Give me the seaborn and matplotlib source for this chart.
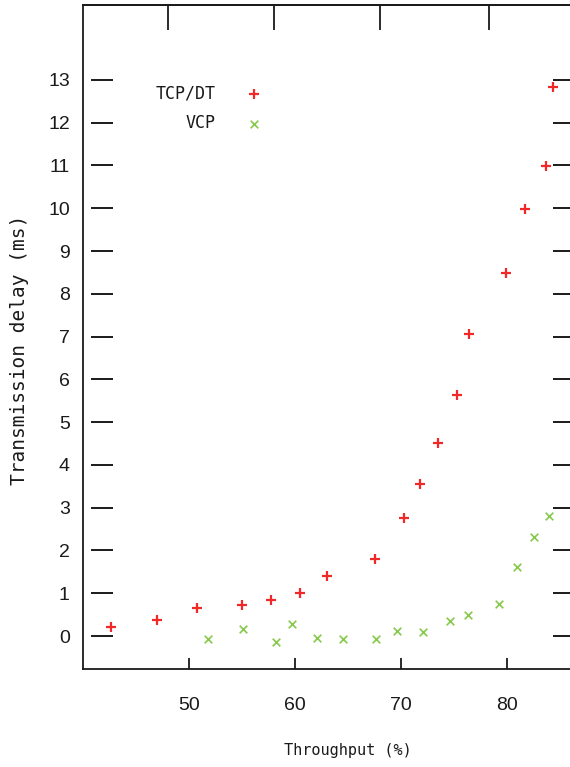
import numpy as np
import pandas as pd
import matplotlib
matplotlib.use("Agg")
import matplotlib.pyplot as plt
import seaborn as sns

# --- data --------------------------------------------------------------
tcp_x = [42.6, 47.0, 50.8, 55.0, 57.7, 60.5, 63.0, 67.5, 70.3, 71.8,
         73.5, 75.3, 76.4, 79.9, 81.7, 83.7, 84.3]
tcp_y = [0.21, 0.37, 0.65, 0.72, 0.84, 1.00, 1.40, 1.80, 2.76, 3.55,
         4.51, 5.63, 7.06, 8.48, 9.98, 10.98, 12.83]

vcp_x = [51.8, 55.1, 58.2, 59.7, 62.1, 64.5, 67.6, 69.6, 72.1, 74.6,
         76.3, 79.2, 80.9, 82.5, 84.0]
vcp_y = [-0.07, 0.16, -0.14, 0.28, -0.05, -0.07, -0.07, 0.12, 0.09, 0.35,
         0.49, 0.75, 1.61, 2.31, 2.80]

x_ticks = [50, 60, 70, 80]
top_ticks = [48, 58, 68, 78.3]
y_ticks = list(range(0, 14))

tcp = pd.DataFrame({"x": tcp_x, "y": tcp_y})
vcp = pd.DataFrame({"x": vcp_x, "y": vcp_y})

RED = "#f02828"
GREEN = "#86c94a"
INK = "#1a1a1a"

sns.set_theme(style="white")
plt.rcParams["font.family"] = ["Liberation Sans", "DejaVu Sans"]

fig = plt.figure(figsize=(5.7, 7.67), dpi=100)
# right edge of the frame sits just outside the picture, as in the reference
ax = fig.add_axes([83 / 570, 98 / 767, 494 / 570, 664 / 767])

sns.scatterplot(data=tcp, x="x", y="y", ax=ax, marker="+", s=48,
                color=RED, linewidth=1.6, label="TCP/DT", legend=False)
sns.scatterplot(data=vcp, x="x", y="y", ax=ax, marker="x", s=30,
                color=GREEN, linewidth=1.2, label="VCP", legend=False)

ax.set_xlim(40, 86.6)
ax.set_ylim(-0.77, 14.75)

for sp in ax.spines.values():
    sp.set_color(INK)
    sp.set_linewidth(1.3)
ax.spines["right"].set_visible(False)

# bottom ticks (inward, short)
ax.set_xticks(x_ticks)
ax.tick_params(axis="x", direction="in", length=8, width=1.3,
               color=INK, pad=20, labelsize=14, labelcolor=INK,
               bottom=True)

# y ticks: labels only, dashes drawn detached from the spine
ax.set_yticks(y_ticks)
ax.tick_params(axis="y", length=0, pad=9.5, labelsize=14, labelcolor=INK)
ytr = ax.get_yaxis_transform()
ax.hlines(y_ticks, 0.016, 0.061, transform=ytr, color=INK, lw=1.4,
          clip_on=False)
ax.hlines(y_ticks, 0.951, 0.99, transform=ytr, color=INK, lw=1.4,
          clip_on=False)

# top ticks, offset from the bottom ones
top = ax.secondary_xaxis("top")
top.set_xticks(top_ticks, labels=[])
top.tick_params(direction="in", length=18, width=1.3, color=INK)
top.spines["top"].set_linewidth(1.3)
top.spines["top"].set_color(INK)

ax.set_xlabel("Throughput (%)", family="DejaVu Sans Mono", fontsize=11,
              color=INK)
ax.xaxis.set_label_coords(0.536, -0.112)
ax.set_ylabel("Transmission delay (ms)", family="DejaVu Sans Mono",
              fontsize=14, color=INK)
ax.yaxis.set_label_coords(-0.110, 0.48)

leg = ax.legend(loc="upper left", bbox_to_anchor=(0.130, 0.893),
                frameon=False, markerfirst=False, borderpad=0,
                handlelength=1.0, handletextpad=1.8, labelspacing=0.7,
                prop={"family": "DejaVu Sans Mono", "size": 12})
for t in leg.get_texts():
    t.set_color(INK)

fig.savefig("out.png", dpi=100)
